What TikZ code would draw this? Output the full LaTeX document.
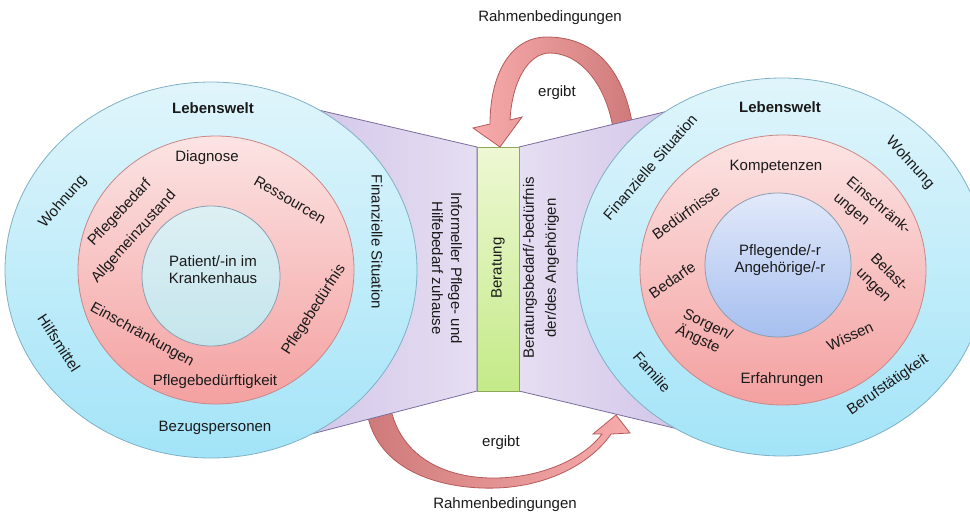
\documentclass[tikz,border=0pt]{standalone}
\usepackage{fontspec}
\setmainfont{Liberation Sans}
\definecolor{blueT}{HTML}{E0F5FB}
\definecolor{blueB}{HTML}{A3E4F8}
\definecolor{blueBd}{HTML}{7FB0C4}
\definecolor{pinkT}{HTML}{FCE4E4}
\definecolor{pinkB}{HTML}{F4A0A0}
\definecolor{pinkBd}{HTML}{C98888}
\definecolor{inLT}{HTML}{DDF0F4}
\definecolor{inLB}{HTML}{C4E5EC}
\definecolor{inRT}{HTML}{E2E9FA}
\definecolor{inRB}{HTML}{A6BFEF}
\definecolor{inBd}{HTML}{8C9EB0}
\definecolor{purL}{HTML}{E6DEF2}
\definecolor{purD}{HTML}{CDBFE6}
\definecolor{purBd}{HTML}{7A6C9C}
\definecolor{grnT}{HTML}{EEF8D4}
\definecolor{grnB}{HTML}{C4EA88}
\definecolor{grnBd}{HTML}{8FA65A}
\definecolor{arrL}{HTML}{F8ABAB}
\definecolor{arrD}{HTML}{CF7A7A}
\definecolor{arrBd}{HTML}{B55A5A}
\definecolor{txt}{HTML}{1A1A1A}
\begin{document}
\begin{tikzpicture}[x=1pt,y=-1pt,
  lbl/.style={font=\fontsize{15}{17}\selectfont, inner sep=0pt, align=center, text=txt},
  bold/.style={lbl, font=\fontsize{15}{17}\selectfont\bfseries},
  arrowshape/.style={draw=arrBd, line width=0.8pt},
  ring/.style={line width=0.8pt}]
\useasboundingbox (0,0) rectangle (970,512);

% curved arrows (tails hidden below the purple funnel)
\path[arrowshape, left color=arrL, right color=arrD]
  (634,135) .. controls (626,70) and (595,37) .. (547,37)
  .. controls (510,37) and (490,75) .. (490,124)
  -- (473,128) -- (500,147) -- (522,117) -- (510,120)
  .. controls (512,82) and (528,53) .. (550,53)
  .. controls (580,53) and (608,85) .. (614,135) -- cycle;
\path[arrowshape, left color=arrD, right color=arrL]
  (366,405) .. controls (372,470) and (440,490) .. (497,488)
  .. controls (550,486) and (592,462) .. (611,434)
  -- (630,433) -- (616,415) -- (593,434) -- (602,434)
  .. controls (585,457) and (545,477) .. (497,478)
  .. controls (450,479) and (400,460) .. (390,405) -- cycle;

% purple funnel
\path[draw=purBd, line width=0.8pt, left color=purD, right color=purL]
  (250,94) -- (477,147) -- (477,391) -- (250,450) -- cycle;
\path[draw=purBd, line width=0.8pt, left color=purL, right color=purD]
  (519,147) -- (720,98.5) -- (720,439) -- (519,391) -- cycle;

% Beratung bar
\path[draw=grnBd, line width=0.8pt, top color=grnT, bottom color=grnB]
  (477,147) rectangle (519,391);

% left circles
\path[ring, draw=blueBd, top color=blueT, bottom color=blueB]
  (211,270) ellipse [x radius=206pt, y radius=188pt];
\path[ring, draw=pinkBd, top color=pinkT, bottom color=pinkB]
  (216,270) ellipse [x radius=138pt, y radius=134pt];
\path[ring, draw=inBd, top color=inLT, bottom color=inLB]
  (211,276) ellipse [x radius=69pt, y radius=70pt];

% right circles
\path[ring, draw=blueBd, top color=blueT, bottom color=blueB]
  (782,267) ellipse [x radius=205pt, y radius=189pt];
\path[ring, draw=pinkBd, top color=pinkT, bottom color=pinkB]
  (783,270) ellipse [x radius=143pt, y radius=135pt];
\path[ring, draw=inBd, top color=inRT, bottom color=inRB]
  (778,265) ellipse [x radius=73pt, y radius=72pt];

% left texts
\node[bold] (lw1) at (213,108) {Lebenswelt};
\node[lbl, rotate=49] (wo1) at (63,202) {Wohnung};
\node[lbl, rotate=-57] (hi1) at (59,343) {Hilfsmittel};
\node[lbl] (bz1) at (215,428) {Bezugspersonen};
\node[lbl, rotate=-90] (fs1) at (377,242) {Finanzielle Situation};
\node[lbl] (di1) at (207,158) {Diagnose};
\node[lbl, rotate=-30] (re1) at (290,200) {Ressourcen};
\node[lbl, rotate=47] (pb1) at (120,213) {Pflegebedarf};
\node[lbl, rotate=48] (az1) at (134,237) {Allgemeinzustand};
\node[lbl, rotate=57] (pn1) at (314,310) {Pflegebedürfnis};
\node[lbl, rotate=-29] (ei1) at (142,335) {Einschränkungen};
\node[lbl] (pk1) at (215,382) {Pflegebedürftigkeit};
\node[lbl] (pa1) at (213,270) {Patient/-in im\\Krankenhaus};

% right texts
\node[bold] (lw2) at (780,107) {Lebenswelt};
\node[lbl, rotate=49] (fs2) at (650,167) {Finanzielle Situation};
\node[lbl, rotate=-48] (wo2) at (910,163) {Wohnung};
\node[lbl, rotate=-49] (fa2) at (652,372) {Familie};
\node[lbl, rotate=35] (bt2) at (888,385) {Berufstätigkeit};
\node[lbl] (ko2) at (776,167) {Kompetenzen};
\node[lbl, rotate=36] (bn2) at (686,213) {Bedürfnisse};
\node[lbl, rotate=-40, align=left] (es2) at (872,214) {Einschränk-\\[3pt]ungen};
\node[lbl, rotate=-45, align=left] (bl2) at (882,280) {Belast-\\[3pt]ungen};
\node[lbl, rotate=35] (bd2) at (672,280) {Bedarfe};
\node[lbl, rotate=-25, align=left] (so2) at (704,333) {Sorgen/\\Ängste};
\node[lbl, rotate=25] (wi2) at (850,336) {Wissen};
\node[lbl] (er2) at (782,380) {Erfahrungen};
\node[lbl] (pf2) at (780,260) {Pflegende/-r\\Angehörige/-r};

% middle texts
\node[lbl, rotate=-90] (inf) at (447,268) {Informeller Pflege- und\\[2pt]Hilfebedarf zuhause};
\node[lbl, rotate=90] (ber) at (498,268) {Beratung};
\node[lbl, rotate=90] (bbd) at (541,268) {Beratungsbedarf/-bedürfnis\\[5pt]der/des Angehörigen};

% arrow labels
\node[lbl] (rb1) at (550,18) {Rahmenbedingungen};
\node[lbl] (eg1) at (557,93) {ergibt};
\node[lbl] (eg2) at (501,443) {ergibt};
\node[lbl] (rb2) at (505,505) {Rahmenbedingungen};
\end{tikzpicture}
\end{document}
